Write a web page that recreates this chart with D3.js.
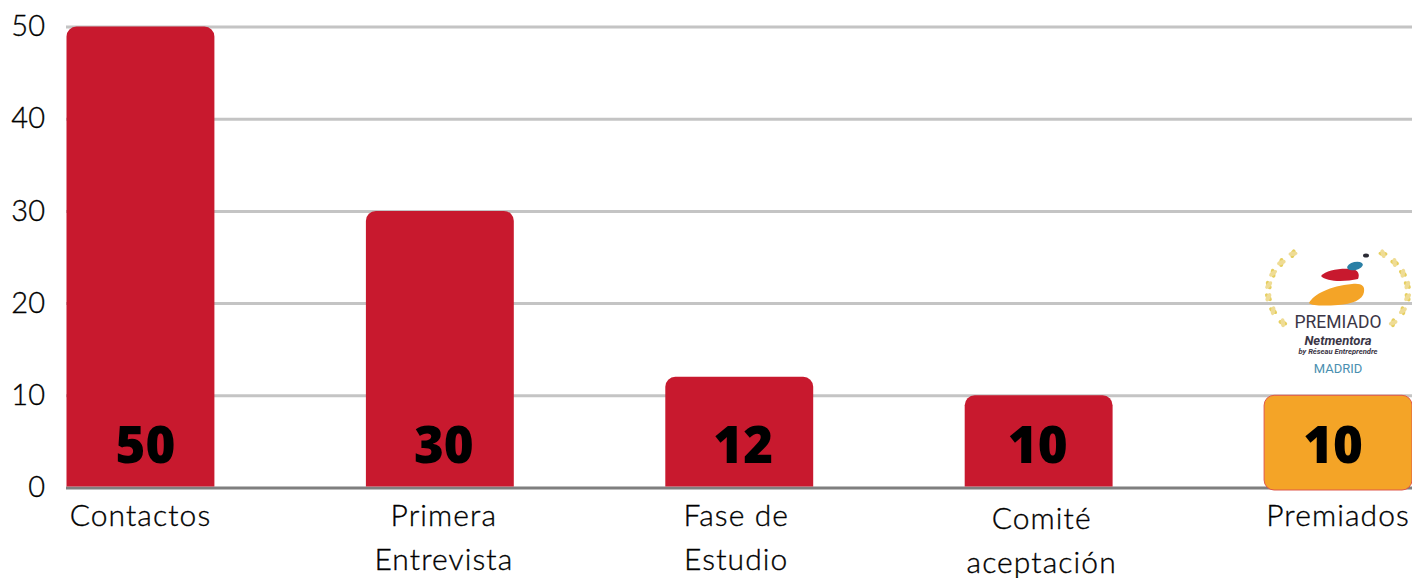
<!DOCTYPE html>
<html lang="es">
<head>
<meta charset="utf-8">
<title>Premiados</title>
<script src="https://cdn.jsdelivr.net/npm/d3@7"></script>
<style>
    html, body { margin: 0; padding: 0; background: #fff; }
    svg { display: block; }
    .cat-label { font-family: Lato, sans-serif; font-weight: 300; fill: #000; stroke: #000; stroke-width: 0.35px; }
    .value-label { font-family: "Open Sans", sans-serif; font-weight: 800; fill: #000; }
</style>
</head>
<body>
<svg width="1412" height="578"></svg>
<script>
// **** Data ****
var categories = ['Contactos', 'Primera Entrevista', 'Fase de Estudio', 'Comité aceptación', 'Premiados'];
var values = [50, 30, 12, 10, 10];
var yTicks = [0, 10, 20, 30, 40, 50];

var barRed = '#c8192e';
var barOrange = '#f4a427';

// hand placed offsets, the labels are not centred on the bars in the original
var valueNudge = [5, 4, 4, -1, -5];
var catNudge = [0, 4, -3, 3, 0];
var catDrop = [0, 0, 0, 3, 0];

// **** Scales and axes ****
var xScale = d3.scaleBand().domain(categories).range([66.5, 1412]).paddingInner(0.506);
var yScale = d3.scaleLinear().domain([0, 50]).range([487.5, 26.5]);

var svg = d3.select('svg');

var yAxis = svg.append('g').attr('class', 'y-axis')
    .attr('transform', 'translate(66,0)')
    .call(d3.axisLeft(yScale).tickValues(yTicks).tickSize(-1346).tickPadding(21));

yAxis.select('.domain').remove();
yAxis.selectAll('line')
    .attr('stroke', function (d) { return d === 0 ? '#7f7f7f' : '#c4c4c4'; })
    .attr('stroke-width', 3);
yAxis.selectAll('text')
    .attr('font-size', 29)
    .attr('fill', '#000')
    .attr('stroke', '#000')
    .attr('stroke-width', 0.35)
    .style('font-family', 'Lato, sans-serif')
    .style('font-weight', 300);

// **** Bars ****
function barPath(x, y, w, h, r, roundBottom) {
    var p = d3.path();
    p.moveTo(x, y + r);
    p.arcTo(x, y, x + r, y, r);
    p.lineTo(x + w - r, y);
    p.arcTo(x + w, y, x + w, y + r, r);
    if (roundBottom) {
        p.lineTo(x + w, y + h - r);
        p.arcTo(x + w, y + h, x + w - r, y + h, r);
        p.lineTo(x + r, y + h);
        p.arcTo(x, y + h, x, y + h - r, r);
    } else {
        p.lineTo(x + w, y + h);
        p.lineTo(x, y + h);
    }
    p.closePath();
    return p.toString();
}

categories.forEach(function (cat, i) {
    var last = i === categories.length - 1;
    var top = yScale(values[i]);
    var h = yScale(0) - top + (last ? 2.5 : -1);
    svg.append('path')
        .attr('d', barPath(xScale(cat), top, xScale.bandwidth(), h, 10, last))
        .attr('fill', last ? barOrange : barRed)
        .attr('stroke', last ? '#e0584a' : 'none')
        .attr('stroke-width', last ? 1 : 0);

    svg.append('text')
        .attr('class', 'value-label')
        .attr('x', xScale(cat) + xScale.bandwidth() / 2 + valueNudge[i])
        .attr('y', 463)
        .attr('text-anchor', 'middle')
        .attr('font-size', 51)
        .text(values[i]);

    // category label wraps after the first word
    var words = cat.split(' ');
    if (words.length > 2) words = [words.slice(0, 2).join(' '), words[2]];
    words.forEach(function (word, k) {
        svg.append('text')
            .attr('class', 'cat-label')
            .attr('x', xScale(cat) + xScale.bandwidth() / 2 + catNudge[i])
            .attr('y', 526 + catDrop[i] + k * 44)
            .attr('text-anchor', 'middle')
            .attr('font-size', 30)
            .attr('letter-spacing', 1.1)
            .text(word);
    });
});

// **** Award badge above the last bar ****
var badge = svg.append('g').attr('class', 'badge');

var leafAngles = [40, 54, 68, 82, 96, 112, 128];
[-1, 1].forEach(function (side) {
    leafAngles.forEach(function (a) {
        var rad = a * Math.PI / 180;
        var lx = 1338 + side * 70 * Math.sin(rad);
        var ly = 292 - 50 * Math.cos(rad);
        [-32, 32].forEach(function (tilt, j) {
            badge.append('ellipse')
                .attr('rx', 2.2)
                .attr('ry', 4.5)
                .attr('fill', j ? '#efdc95' : '#e6cf5f')
                .attr('transform', 'translate(' + lx + ',' + ly + ') rotate(' + (side * (a - 90) + tilt) + ')');
        });
    });
});

badge.append('path')
    .attr('d', 'M1309,303 C1314,294 1330,286 1352,284 C1362,283 1365,286 1364,292 C1363,300 1352,304 1338,305 C1325,306 1312,306 1309,303Z')
    .attr('fill', '#f4a427');
badge.append('path')
    .attr('d', 'M1321,276 C1326,270 1340,268 1352,269 C1358,270 1360,274 1358,279 C1345,282 1326,282 1321,276Z')
    .attr('fill', '#c8192e');
badge.append('ellipse')
    .attr('rx', 8).attr('ry', 4)
    .attr('transform', 'translate(1355,266) rotate(-12)')
    .attr('fill', '#2a7fa5');
badge.append('ellipse')
    .attr('cx', 1366).attr('cy', 255.5).attr('rx', 3).attr('ry', 2)
    .attr('fill', '#2b2b35');

var badgeText = [
    { t: 'PREMIADO', y: 328, size: 17.5, weight: 400, style: 'normal', fill: '#3b3646' },
    { t: 'Netmentora', y: 345, size: 13, weight: 700, style: 'italic', fill: '#3b3646' },
    { t: 'by Réseau Entreprendre', y: 354, size: 7.6, weight: 700, style: 'italic', fill: '#3b3646' },
    { t: 'MADRID', y: 373, size: 13, weight: 400, style: 'normal', fill: '#4a8fb0' }
];
badgeText.forEach(function (b) {
    badge.append('text')
        .attr('x', 1338)
        .attr('y', b.y)
        .attr('text-anchor', 'middle')
        .attr('font-family', 'Roboto, sans-serif')
        .attr('font-size', b.size)
        .attr('font-weight', b.weight)
        .attr('font-style', b.style)
        .attr('fill', b.fill)
        .text(b.t);
});
</script>
</body>
</html>
